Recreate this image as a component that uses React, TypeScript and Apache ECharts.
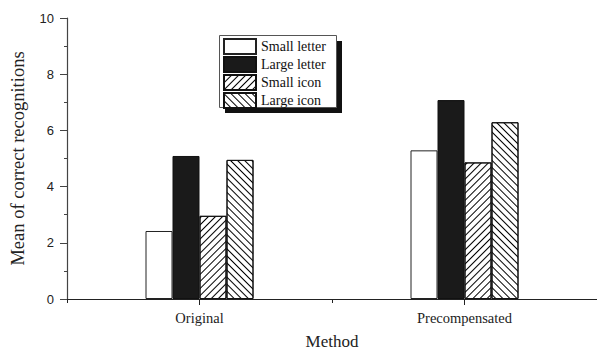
import React, { useEffect, useRef } from "react";
import * as echarts from "echarts";

const methods = ["Original", "Precompensated"];
const seriesNames = ["Small letter", "Large letter", "Small icon", "Large icon"];
const smallLetter = [2.42, 5.29];
const largeLetter = [5.09, 7.08];
const smallIcon = [2.96, 4.86];
const largeIcon = [4.95, 6.29];
const yTickMin = 0;
const yTickMax = 10;
const yTickStep = 2;

const SERIF = "'Liberation Serif', 'Times New Roman', serif";
const SANS = "'Liberation Sans', Arial, sans-serif";

export default function App() {
  const ref = useRef<HTMLDivElement>(null);
  useEffect(() => {
    if (!ref.current) return;
    const chart = echarts.init(ref.current, null, { renderer: "svg" });
    const hatch = (rot: number) => ({
      symbol: "rect",
      symbolSize: 1,
      dashArrayX: [1, 0],
      dashArrayY: [1, 4],
      rotation: rot,
      color: "#000",
      backgroundColor: "#fff",
    });
    const base = { type: "bar", barWidth: 27, barGap: "0%", xAxisIndex: 0, yAxisIndex: 0 };
    chart.setOption({
      animation: false,
      backgroundColor: "#fff",
      grid: { left: 66, top: 18, width: 536, height: 284 },
      xAxis: [
        {
          type: "category",
          data: methods,
          boundaryGap: true,
          axisLine: { show: true, lineStyle: { color: "#222", width: 1.2 } },
          axisTick: { show: true, inside: false, length: 4, lineStyle: { color: "#222" } },
          axisLabel: { fontFamily: SERIF, fontSize: 14.5, color: "#222", margin: 11 },
          name: "Method",
          nameLocation: "middle",
          nameGap: 34,
          nameTextStyle: { fontFamily: SERIF, fontSize: 17, color: "#222" },
          splitLine: { show: false },
        },
        {
          type: "category",
          data: methods,
          position: "bottom",
          boundaryGap: true,
          axisLine: { show: false },
          axisTick: { show: true, alignWithLabel: true, length: 6, lineStyle: { color: "#222" } },
          axisLabel: { show: false },
          splitLine: { show: false },
        },
      ],
      yAxis: {
        type: "value",
        min: yTickMin,
        max: yTickMax,
        interval: yTickStep,
        axisLine: { show: true, lineStyle: { color: "#444", width: 1.2 } },
        axisTick: { show: true, inside: false, length: 7, lineStyle: { color: "#444" } },
        minorTick: { show: true, splitNumber: 2, length: 3, lineStyle: { color: "#444" } },
        splitLine: { show: false },
        axisLabel: { fontFamily: SANS, fontSize: 13, color: "#222", margin: 13 },
        name: "Mean of correct recognitions",
        nameLocation: "middle",
        nameGap: 40,
        nameTextStyle: { fontFamily: SERIF, fontSize: 18.5, color: "#222" },
      },
      legend: {
        orient: "vertical",
        left: 223,
        top: 38,
        padding: 0,
        itemGap: 1,
        itemWidth: 32,
        itemHeight: 15,
        icon: "rect",
        z: 10,
        data: seriesNames,
        textStyle: { fontFamily: SERIF, fontSize: 14, color: "#111", lineHeight: 15, padding: 0 },
      },
      graphic: [
        { type: "rect", left: 225, top: 41, z: 1, shape: { width: 117, height: 72 }, style: { fill: "#111" } },
        { type: "rect", left: 219, top: 35, z: 2, shape: { width: 117, height: 72 }, style: { fill: "#fff", stroke: "#555", lineWidth: 1 } },
      ],
      series: [
        { ...base, name: seriesNames[0], data: smallLetter, itemStyle: { color: "#fff", borderColor: "#222", borderWidth: 1 } },
        { ...base, name: seriesNames[1], data: largeLetter, itemStyle: { color: "#1a1a1a", borderColor: "#111", borderWidth: 1 } },
        { ...base, name: seriesNames[2], data: smallIcon, itemStyle: { color: "#fff", borderColor: "#111", borderWidth: 1, decal: hatch(-Math.PI / 4) } },
        { ...base, name: seriesNames[3], data: largeIcon, itemStyle: { color: "#fff", borderColor: "#111", borderWidth: 1, decal: hatch(Math.PI / 4) } },
      ],
    });
    return () => chart.dispose();
  }, []);
  return <div ref={ref} style={{ position: "absolute", left: 0, top: 0, width: 597, height: 355 }} />;
}
